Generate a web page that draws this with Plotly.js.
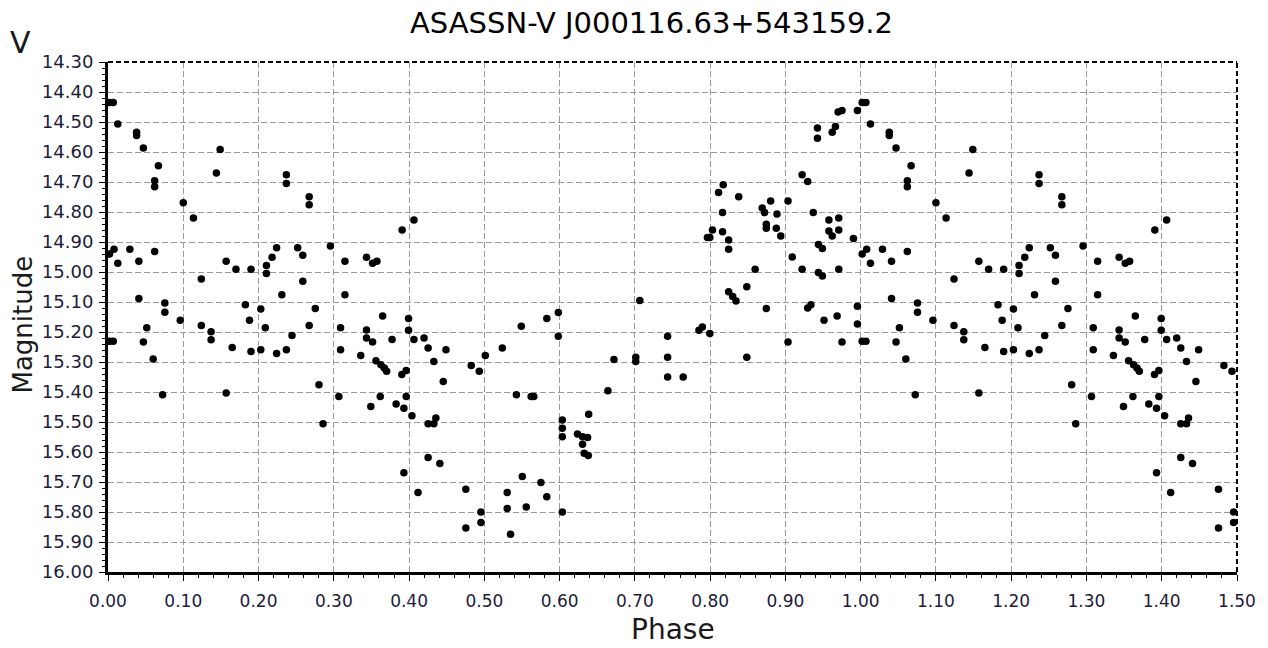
<!DOCTYPE html>
<html>
<head>
<meta charset="utf-8">
<script src="https://cdn.plot.ly/plotly-3.0.1.min.js"></script>
<style>html,body{margin:0;padding:0;background:#fff;}#chart{width:1268px;height:648px;}</style>
</head>
<body>
<div id="chart"></div>
<script>
// Phase-folded light curve, phase 0..1 (points with phase < 0.5 are repeated at phase+1)
const phase = [
0.002,0.007,0.013,0.038,0.038,0.047,0.067,0.062,0.062,0.100,0.1135,0.149,0.144,0.237,0.237,
0.002,0.008,0.013,0.029,0.041,0.062,0.041,0.0755,0.0755,0.096,0.124,0.124,0.137,0.137,0.157,
0.170,0.190,0.1825,0.188,0.165,0.190,0.157,0.203,0.209,0.203,0.2105,0.2105,0.218,0.224,0.231,
0.224,0.237,0.2445,0.252,0.002,0.007,0.047,0.0515,0.060,0.0725,
0.2673,0.2673,0.2588,0.2588,0.2754,0.2673,0.2803,0.2857,0.2955,0.3148,0.3148,0.309,0.309,0.3067,
0.3434,0.3515,0.3573,0.3908,0.4065,0.3649,0.3434,0.3434,0.3515,0.3774,0.3358,0.356,0.3626,0.3671,
0.3702,0.3492,0.3617,0.3828,0.3931,0.3904,0.3962,0.3962,0.3993,0.3993,0.4065,0.4038,0.4199,0.4253,
0.4329,0.449,0.4454,0.4253,0.4329,0.4356,0.4253,0.4409,0.3931,0.4119,0.4826,0.4933,0.5013,0.4754,
0.4955,0.4955,0.4754,
0.5239,0.5491,0.583,0.5983,0.5983,0.5426,0.5622,0.5657,0.6036,0.6036,0.6036,0.6238,0.6305,0.6372,
0.6305,0.6327,0.6381,0.6386,0.6642,0.6722,0.7012,0.7012,0.7066,0.7435,0.7435,0.7435,0.5504,0.5304,
0.5304,0.5752,0.583,0.5557,0.5348,0.6036,
0.7642,0.7852,0.7897,0.7996,0.7964,0.7996,0.8031,0.8112,0.8174,0.838,0.8165,0.8165,0.8246,0.8246,
0.8246,0.83,0.8344,0.8487,0.8598,0.8746,0.8487,0.8692,0.8723,0.8804,0.8746,0.8746,0.8888,0.8879,
0.8938,0.9035,0.9091,0.9222,0.9035,0.9222,0.9296,0.937,0.9426,0.9426,0.9622,0.9665,0.97,0.9752,
0.9957,0.9578,0.9709,0.9578,0.9622,0.9709,0.9439,0.9491,0.9439,0.9491,0.9709,0.9904,0.9296,0.9339,
0.9513,0.9687,0.9957,0.9957,0.9752
];
const magnitude = [
14.435,14.435,14.507,14.534,14.545,14.587,14.646,14.696,14.716,14.769,14.82,14.592,14.67,14.676,14.705,
14.94,14.924,14.971,14.924,14.964,14.932,15.088,15.103,15.134,15.161,15.023,15.178,15.199,15.226,14.964,
14.991,14.991,15.109,15.161,15.252,15.265,15.403,15.123,15.186,15.259,14.978,15.005,14.951,14.919,15.076,
15.272,15.259,15.212,14.919,15.231,15.231,15.233,15.186,15.29,15.409,
14.749,14.776,14.944,15.031,15.122,15.178,15.376,15.506,14.913,14.964,15.076,15.186,15.259,15.415,
14.951,14.971,14.964,14.86,14.827,15.147,15.193,15.22,15.233,15.225,15.278,15.296,15.309,15.32,
15.331,15.448,15.415,15.44,15.454,15.342,15.328,15.415,15.155,15.194,15.225,15.479,15.22,15.253,
15.298,15.259,15.365,15.506,15.506,15.487,15.618,15.638,15.669,15.735,15.312,15.331,15.278,15.724,
15.80,15.835,15.853,
15.253,15.181,15.155,15.135,15.214,15.409,15.415,15.415,15.493,15.521,15.549,15.54,15.549,15.552,
15.574,15.604,15.612,15.474,15.396,15.292,15.284,15.298,15.095,15.214,15.284,15.35,15.682,15.735,
15.788,15.702,15.749,15.783,15.874,15.80,
15.35,15.194,15.183,15.205,14.885,14.885,14.86,14.735,14.709,14.749,14.802,14.866,14.893,14.924,
15.066,15.082,15.097,15.049,14.991,15.122,15.284,14.787,14.802,14.763,14.841,14.854,14.807,14.854,
14.88,14.763,14.95,14.991,15.233,14.676,14.698,14.802,14.52,14.554,14.534,14.515,14.467,14.462,
14.462,14.827,14.82,14.863,14.88,14.86,14.908,14.922,15.002,15.013,14.991,14.888,15.12,15.109,
15.161,15.147,15.114,15.173,15.233
];
const xTickVals = [0,0.1,0.2,0.3,0.4,0.5,0.6,0.7,0.8,0.9,1.0,1.1,1.2,1.3,1.4,1.5];
const yTickVals = [14.3,14.4,14.5,14.6,14.7,14.8,14.9,15.0,15.1,15.2,15.3,15.4,15.5,15.6,15.7,15.8,15.9,16.0];
const titleText = 'ASASSN-V J000116.63+543159.2';

// Folded display: phase 0..1 plus the first half repeated after 1.0
const xs = [], ys = [];
for (let i = 0; i < phase.length; i++) {
  xs.push(phase[i]); ys.push(magnitude[i]);
}
for (let i = 0; i < phase.length; i++) {
  if (phase[i] < 0.5) { xs.push(phase[i] + 1); ys.push(magnitude[i]); }
}

const FONT = 'DejaVu Sans, Verdana, sans-serif';
const tickColor = '#1c1c3a';

const trace = {
  x: xs, y: ys, type: 'scatter', mode: 'markers',
  marker: {color: '#000', size: 7.5, line: {width: 0}},
  cliponaxis: true, hoverinfo: 'x+y'
};

const layout = {
  width: 1268, height: 648,
  margin: {l: 108, r: 31, t: 62, b: 76, pad: 0},
  paper_bgcolor: '#fff', plot_bgcolor: '#fff',
  showlegend: false,
  xaxis: {
    range: [0, 1.5], tickvals: xTickVals, tickformat: '.2f',
    showgrid: true, gridcolor: '#9a9a9a', griddash: '6px,3px', gridwidth: 1,
    showline: true, linecolor: '#000', linewidth: 3,
    ticks: 'outside', ticklen: 6, tickcolor: '#000', tickwidth: 1,
    minor: {dtick: 0.02, ticks: 'outside', ticklen: 3, tickcolor: '#000', showgrid: false},
    tickfont: {family: FONT, size: 17, color: tickColor},
    ticklabelstandoff: 6,
    zeroline: false, fixedrange: true
  },
  yaxis: {
    range: [16.0, 14.3], tickvals: yTickVals, tickformat: '.2f',
    showgrid: true, gridcolor: '#9a9a9a', griddash: '6px,3px', gridwidth: 1,
    showline: true, linecolor: '#000', linewidth: 3,
    ticks: 'outside', ticklen: 6, tickcolor: '#000', tickwidth: 1,
    minor: {dtick: 0.02, ticks: 'outside', ticklen: 3, tickcolor: '#000', showgrid: false},
    tickfont: {family: FONT, size: 18, color: tickColor},
    ticklabelstandoff: 2,
    zeroline: false, fixedrange: true
  },
  shapes: [
    {type: 'line', xref: 'paper', yref: 'paper', x0: 0, x1: 1, y0: 1, y1: 1,
     line: {color: '#000', width: 2, dash: '5px,3px'}},
    {type: 'line', xref: 'paper', yref: 'paper', x0: 1, x1: 1, y0: 0, y1: 1,
     line: {color: '#000', width: 2, dash: '5px,3px'}}
  ],
  annotations: [
    {text: titleText, xref: 'paper', yref: 'paper', x: 0.4818, y: 1.0765,
     xanchor: 'center', yanchor: 'middle', showarrow: false,
     font: {family: FONT, size: 29, color: '#000'}},
    {text: 'V', xref: 'paper', yref: 'paper', x: -0.0771, y: 1.039,
     xanchor: 'center', yanchor: 'middle', showarrow: false,
     font: {family: FONT, size: 30, color: '#1a1a1a'}},
    {text: 'Magnitude', xref: 'paper', yref: 'paper', x: -0.0757, y: 0.4843,
     xanchor: 'center', yanchor: 'middle', textangle: -90, showarrow: false,
     font: {family: FONT, size: 26, color: '#1a1a1a'}},
    {text: 'Phase', xref: 'paper', yref: 'paper', x: 0.5, y: -0.112,
     xanchor: 'center', yanchor: 'middle', showarrow: false,
     font: {family: FONT, size: 28, color: '#1a1a1a'}}
  ]
};

Plotly.newPlot('chart', [trace], layout, {displayModeBar: false, staticPlot: true});
</script>
</body>
</html>
